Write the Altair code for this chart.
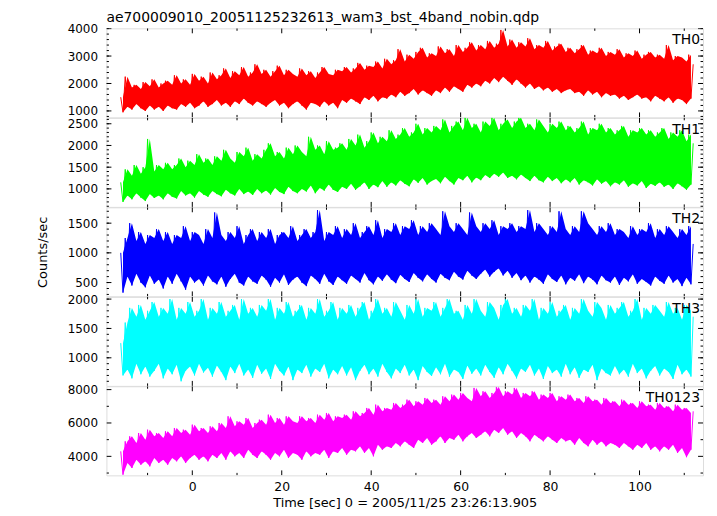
import altair as alt
import pandas as pd

TITLE = "ae700009010_20051125232613_wam3_bst_4band_nobin.qdp"
X_TITLE = "Time [sec] 0 = 2005/11/25 23:26:13.905"
Y_TITLE = "Counts/sec"
NAMES = ["TH0", "TH1", "TH2", "TH3", "TH0123"]
COLORS = ["#ff0000", "#00ff00", "#0000ff", "#00ffff", "#ff00ff"]
FONT = "DejaVu Sans"

X_DOMAIN = [-19.2, 114.2]
X_LABELS = [0, 20, 40, 60, 80, 100]
X_MINOR = [-10, 10, 30, 50, 70, 90, 110]

Y_DOMAINS = [[764, 4010], [585, 2637], [267, 1767], [522, 2039], [2860, 8200]]
Y_LABELS = [[1000, 2000, 3000, 4000], [1000, 1500, 2000, 2500], [500, 1000, 1500],
            [1000, 1500, 2000], [4000, 6000, 8000]]
Y_MINOR = [list(range(800, 4001, 200)), list(range(600, 2601, 100)), list(range(300, 1701, 100)),
           list(range(600, 2001, 100)), [3000, 5000, 7000]]

# sample times: peaks at whole seconds, troughs half a second later
T_PK = list(range(-16, 113))
T_TR = [t + 0.5 for t in range(-16, 112)]

TH0_PK = [1500, 2250, 1850, 1950, 1800, 2050, 1900, 2150, 1850, 2000,
          2100, 1950, 2300, 2000, 2150, 1950, 2350, 2100, 2250, 2000,
          2400, 2150, 2300, 2550, 2200, 2450, 2300, 2600, 2250, 2400,
          2700, 2350, 2500, 2250, 2450, 2650, 2300, 2500, 2350, 2250,
          2550, 2300, 2450, 2200, 2400, 2600, 2350, 2300, 2500, 2450,
          2600, 2400, 2550, 2750, 2500, 2650, 2600, 2800, 2550, 2900,
          2700, 2850, 3250, 2800, 3050, 2900, 3150, 3300, 2950, 3100,
          3000, 3350, 3100, 3250, 3000, 3400, 3150, 3300, 3500, 3200,
          3400, 3250, 3550, 3300, 3450, 3950, 3350, 3600, 3300, 3500,
          3350, 3650, 3250, 3400, 3300, 3550, 3200, 3350, 3450, 3150,
          3300, 3100, 3250, 3400, 3050, 3200, 3100, 3300, 3000, 3150,
          3050, 3250, 2950, 3100, 3000, 3200, 2900, 3050, 3150, 2950,
          3050, 2900, 3400, 2850, 3000, 2950, 2800, 3050, 2700]
TH0_TR = [950, 1150, 1050, 1250, 1100, 1000, 1200, 1050, 1150, 1000,
          1200, 1100, 1050, 1250, 1150, 1300, 1100, 1200, 1350, 1150,
          1250, 1400, 1200, 1300, 1150, 1350, 1250, 1450, 1300, 1200,
          1350, 1250, 1150, 1300, 1400, 1200, 1300, 1100, 1250, 1350,
          1200, 1050, 1300, 1250, 1150, 1350, 1200, 1300, 1100, 1400,
          1300, 1450, 1350, 1250, 1500, 1400, 1550, 1350, 1500, 1450,
          1600, 1500, 1700, 1550, 1650, 1800, 1600, 1750, 1650, 1550,
          1750, 1650, 1850, 1700, 1900, 1800, 1700, 1950, 1850, 2000,
          1900, 2100, 2000, 2200, 2050, 2250, 2100, 1950, 2150, 2000,
          1850, 2000, 1800, 1900, 1750, 1850, 1700, 1800, 1650, 1750,
          1800, 1650, 1700, 1550, 1750, 1600, 1700, 1500, 1650, 1550,
          1600, 1450, 1550, 1400, 1500, 1600, 1450, 1500, 1350, 1550,
          1450, 1350, 1500, 1300, 1450, 1400, 1250, 1450]

TH1_PK = [1150, 1450, 1300, 1550, 1350, 1500, 2150, 1400, 1550, 1450,
          1600, 1450, 1550, 1700, 1500, 1650, 1550, 1800, 1600, 1700,
          1550, 1750, 1650, 1900, 1700, 1600, 1850, 1750, 1950, 1650,
          1800, 1700, 1900, 2050, 1750, 1850, 1700, 1950, 1800, 2000,
          1850, 1750, 2200, 1900, 2000, 1800, 2100, 1900, 1950, 2050,
          1900, 2150, 2000, 2250, 1950, 2100, 2300, 2050, 2200, 2100,
          2350, 2150, 2250, 2400, 2200, 2300, 2500, 2250, 2400, 2300,
          2450, 2350, 2600, 2300, 2450, 2550, 2350, 2640, 2400, 2500,
          2300, 2550, 2450, 2640, 2350, 2500, 2600, 2400, 2550, 2640,
          2400, 2500, 2350, 2600, 2450, 2300, 2500, 2400, 2550, 2350,
          2450, 2300, 2400, 2550, 2250, 2400, 2350, 2500, 2300, 2400,
          2250, 2350, 2450, 2200, 2350, 2300, 2400, 2250, 2350, 2200,
          2300, 2400, 2150, 2300, 2200, 2350, 2100, 2250, 2050]
TH1_TR = [700, 850, 760, 900, 800, 720, 880, 790, 850, 760,
          900, 820, 780, 950, 850, 900, 800, 950, 870, 820,
          950, 880, 830, 980, 900, 850, 1000, 880, 940, 860,
          1000, 900, 960, 870, 1020, 930, 880, 1050, 950, 900,
          1000, 940, 1080, 900, 1020, 960, 1100, 980, 930, 1050,
          1000, 1120, 980, 1060, 1150, 1000, 1100, 1040, 1180, 1050,
          1150, 1080, 1200, 1120, 1060, 1220, 1140, 1250, 1100, 1180,
          1230, 1130, 1280, 1180, 1100, 1250, 1200, 1300, 1150, 1260,
          1200, 1320, 1250, 1350, 1280, 1380, 1250, 1300, 1220, 1330,
          1250, 1180, 1300, 1200, 1150, 1280, 1180, 1250, 1130, 1220,
          1150, 1250, 1100, 1200, 1150, 1080, 1220, 1120, 1180, 1060,
          1150, 1100, 1200, 1050, 1130, 1080, 1180, 1020, 1120, 1070,
          1150, 1050, 1100, 1000, 1130, 1060, 980, 1100]

TH2_PK = [1000, 1250, 1500, 1200, 1350, 1150, 1300, 1250, 1400, 1200,
          1350, 1150, 1300, 1250, 1450, 1200, 1350, 1300, 1150, 1400,
          1250, 1680, 1300, 1200, 1350, 1250, 1450, 1150, 1300, 1400,
          1200, 1350, 1250, 1400, 1150, 1300, 1350, 1250, 1450, 1200,
          1300, 1400, 1250, 1350, 1720, 1200, 1350, 1300, 1450, 1250,
          1400, 1300, 1500, 1250, 1350, 1450, 1300, 1550, 1250, 1400,
          1350, 1500, 1300, 1450, 1400, 1550, 1300, 1450, 1350, 1500,
          1400, 1300, 1700, 1450, 1350, 1500, 1400, 1300, 1680, 1450,
          1350, 1500, 1400, 1550, 1300, 1450, 1400, 1500, 1350, 1450,
          1400, 1720, 1350, 1500, 1400, 1300, 1450, 1350, 1700, 1400,
          1300, 1450, 1350, 1700, 1500, 1400, 1300, 1450, 1350, 1500,
          1300, 1400, 1350, 1250, 1450, 1300, 1400, 1350, 1500, 1250,
          1400, 1300, 1450, 1350, 1250, 1400, 1300, 1450, 1150]
TH2_TR = [330, 600, 450, 650, 500, 420, 620, 480, 550, 400,
          600, 480, 650, 520, 380, 600, 500, 560, 450, 620,
          520, 470, 600, 430, 560, 650, 500, 450, 600, 520,
          480, 620, 550, 430, 580, 500, 640, 460, 550, 600,
          500, 440, 620, 560, 480, 650, 520, 460, 600, 540,
          480, 620, 560, 500, 660, 540, 470, 600, 530, 640,
          550, 490, 630, 560, 510, 660, 580, 520, 640, 560,
          500, 650, 580, 540, 680, 600, 550, 700, 620, 560,
          650, 720, 600, 680, 740, 620, 700, 580, 660, 540,
          620, 500, 600, 550, 480, 640, 560, 510, 620, 470,
          580, 530, 640, 490, 600, 550, 470, 620, 540, 500,
          600, 460, 580, 520, 640, 480, 560, 510, 450, 600,
          530, 480, 620, 500, 560, 440, 580, 470]

TH3_PK = [1250, 1600, 1850, 1700, 1900, 1650, 1800, 1950, 1700, 1850,
          1750, 2000, 1650, 1850, 1750, 1950, 1700, 1800, 2000, 1650,
          1850, 1750, 1950, 1700, 1800, 1900, 1650, 2000, 1750, 1850,
          1700, 1900, 1800, 2000, 1650, 1850, 1750, 1950, 1700, 1800,
          1900, 1650, 1850, 1750, 2000, 1700, 1800, 1950, 1650, 1850,
          1750, 1900, 1700, 1850, 1950, 1650, 1800, 2000, 1750, 1850,
          1700, 1950, 1800, 1650, 1900, 1750, 2000, 1700, 1850, 1800,
          1950, 1700, 1850, 2000, 1750, 1800, 1650, 1900, 1750, 2000,
          1800, 1700, 1950, 1850, 1650, 1900, 2000, 1750, 1850, 1700,
          1900, 1800, 2000, 1650, 1850, 1750, 1950, 1700, 1800, 1900,
          1650, 1850, 1750, 2000, 1800, 1700, 1950, 1850, 1650, 1900,
          1750, 1850, 1950, 1700, 1800, 2000, 1650, 1850, 1750, 1900,
          1800, 1700, 1950, 1750, 1850, 1650, 1900, 1800, 1700]
TH3_TR = [700, 800, 650, 900, 720, 850, 680, 780, 900, 650,
          820, 720, 880, 600, 780, 850, 700, 900, 750, 830,
          680, 870, 760, 620, 850, 740, 900, 700, 800, 660,
          880, 730, 820, 640, 900, 780, 700, 850, 620, 800,
          740, 880, 680, 820, 760, 900, 650, 800, 720, 860,
          700, 840, 620, 780, 880, 720, 820, 680, 900, 760,
          650, 820, 740, 880, 700, 800, 620, 860, 760, 690,
          840, 720, 900, 680, 800, 760, 640, 870, 730, 820,
          700, 880, 760, 660, 840, 720, 900, 780, 650, 820,
          760, 880, 700, 820, 640, 860, 740, 800, 680, 900,
          720, 840, 660, 800, 760, 880, 620, 820, 740, 700,
          860, 720, 800, 680, 900, 740, 820, 650, 780, 860,
          700, 820, 760, 640, 880, 720, 800, 680]

TH0123_PK = [4300, 4900, 5200, 4800, 5400, 5000, 5600, 5200, 5400, 5100,
             5500, 5200, 5700, 5400, 5600, 5300, 5900, 5500, 5700, 5400,
             5800, 5500, 6000, 5700, 6400, 5800, 6100, 5900, 6300, 5700,
             6000, 6200, 5900, 6500, 6000, 6300, 5900, 6400, 6100, 6000,
             6400, 6100, 6300, 6000, 6500, 6200, 6600, 6100, 6400, 6300,
             6500, 6200, 6700, 6400, 6600, 6900, 6500, 7100, 6700, 6900,
             6800, 7200, 6900, 7100, 7400, 7000, 7300, 7100, 7500, 7200,
             7400, 7100, 7600, 7300, 7700, 7400, 7800, 7500, 7300, 8100,
             7600, 7900, 7500, 7800, 8150, 7600, 7900, 7700, 8100, 7500,
             7800, 7600, 7900, 7400, 7700, 7500, 7800, 7300, 7600, 7400,
             7700, 7300, 7500, 7200, 7600, 7300, 7400, 7100, 7500, 7200,
             7300, 7000, 7400, 7100, 7200, 6900, 7300, 7000, 7100, 6800,
             7200, 6900, 7000, 6700, 7100, 6800, 6900, 6600, 6700]
TH0123_TR = [2900, 3600, 3300, 3800, 3500, 3700, 3400, 3900, 3600, 3800,
             3500, 3900, 3700, 4000, 3600, 3900, 4100, 3800, 4000, 3700,
             4100, 3900, 4200, 3800, 4300, 4000, 4200, 3900, 4400, 4100,
             3900, 4300, 4100, 3800, 4200, 4000, 4400, 3900, 4200, 4100,
             3800, 4300, 4000, 4200, 4100, 4400, 3900, 4300, 4200, 4500,
             4100, 4400, 4300, 4600, 4200, 4500, 4000, 4700, 4400, 4600,
             4500, 4800, 4600, 4900, 4700, 4500, 5000, 4800, 5100, 4700,
             4900, 5200, 4800, 5100, 5000, 5300, 4900, 5200, 5400, 5100,
             5300, 5500, 5200, 5600, 5400, 5700, 5300, 5500, 5100, 5400,
             5200, 4900, 5300, 5100, 4900, 5200, 5000, 4800, 5100, 4900,
             5000, 4700, 5100, 4800, 4600, 5000, 4700, 4900, 4600, 4800,
             4700, 4500, 4800, 4600, 4400, 4700, 4500, 4800, 4400, 4600,
             4300, 4600, 4400, 4700, 4200, 4500, 3950, 4400]

PK = [TH0_PK, TH1_PK, TH2_PK, TH3_PK, TH0123_PK]
TR = [TH0_TR, TH1_TR, TH2_TR, TH3_TR, TH0123_TR]

W = 600
H = 89.6
MAJ = 5
MIN = 2.5
FS = 12


def panel(i):
    col = COLORS[i]
    pts = sorted(list(zip(T_PK, PK[i])) + list(zip(T_TR, TR[i])))
    line_df = pd.DataFrame(pts, columns=["t", "v"])
    band_df = pd.DataFrame({"t": T_TR, "lo": TR[i], "hi": PK[i][:len(T_TR)]})
    xs = alt.Scale(domain=X_DOMAIN, nice=False, zero=False)
    ys = alt.Scale(domain=Y_DOMAINS[i], nice=False, zero=False)

    if i == 4:
        xaxis = alt.Axis(values=X_LABELS, title=X_TITLE, ticks=False, tickSize=0, domain=False,
                         grid=False, labelPadding=5, labelFlush=False, labelOverlap=False,
                         labelFontSize=12.5, titleFontSize=13, titlePadding=4, format="d",
                         labelFont=FONT, titleFont=FONT, titleFontWeight="normal",
                         labelColor="black", titleColor="black")
    else:
        xaxis = None
    yargs = dict(values=Y_LABELS[i], ticks=False, tickSize=0, domain=False, grid=False,
                 labelPadding=9, labelFlush=False, labelOverlap=False, labelBound=False,
                 labelFontSize=FS, format="d", labelFont=FONT, labelColor="black")
    if i == 2:
        yargs.update(title=Y_TITLE, titleFont=FONT, titleFontSize=13, titleFontWeight="normal",
                     titleColor="black", titlePadding=18)
    else:
        yargs.update(title=None)
    yaxis = alt.Axis(**yargs)

    X = lambda f: alt.X(f, scale=xs, axis=xaxis)
    Y = lambda f: alt.Y(f, scale=ys, axis=yaxis)

    band = alt.Chart(band_df).mark_area(color=col, clip=True).encode(
        x=X("t:Q"), y=Y("lo:Q"), y2="hi:Q")
    line = alt.Chart(line_df).mark_line(color=col, strokeWidth=1, clip=True).encode(
        x=X("t:Q"), y=Y("v:Q"))

    xmaj = pd.DataFrame({"t": X_LABELS})
    xmin = pd.DataFrame({"t": X_MINOR})
    ymaj = pd.DataFrame({"v": Y_LABELS[i]})
    ymin = pd.DataFrame({"v": Y_MINOR[i]})
    rule = dict(color="black", strokeWidth=1, clip=True)
    layers = [band, line]
    for df, ln in [(xmaj, MAJ), (xmin, MIN)]:
        layers.append(alt.Chart(df).mark_rule(**rule).encode(
            x=X("t:Q"), y=alt.value(H), y2=alt.value(H - ln)))
        layers.append(alt.Chart(df).mark_rule(**rule).encode(
            x=X("t:Q"), y=alt.value(0), y2=alt.value(ln)))
    for df, ln in [(ymaj, MAJ), (ymin, MIN)]:
        layers.append(alt.Chart(df).mark_rule(**rule).encode(
            y=Y("v:Q"), x=alt.value(0), x2=alt.value(ln)))
        layers.append(alt.Chart(df).mark_rule(**rule).encode(
            y=Y("v:Q"), x=alt.value(W - ln), x2=alt.value(W)))
    lab = pd.DataFrame({"name": [NAMES[i]]})
    layers.append(alt.Chart(lab).mark_text(align="right", baseline="alphabetic", font=FONT,
                                           fontSize=14, color="black").encode(
        x=alt.value(W - 3), y=alt.value(16), text="name:N"))
    ch = alt.layer(*layers).properties(width=W, height=H)
    if i == 0:
        ch = ch.properties(title=alt.TitleParams(TITLE, anchor="start", frame="group", fontSize=14,
                                                 font=FONT, fontWeight="normal", color="black",
                                                 offset=-2))
    return ch


chart = alt.vconcat(*[panel(i) for i in range(5)], spacing=0, bounds="flush").resolve_scale(
    x="independent", y="independent").properties(
    padding={"left": 27, "top": 0, "right": 5, "bottom": 0}
).configure_view(stroke="black", strokeWidth=1.3).configure(background="white")

chart.save("out.html", embed_options={"renderer": "svg", "actions": False})
